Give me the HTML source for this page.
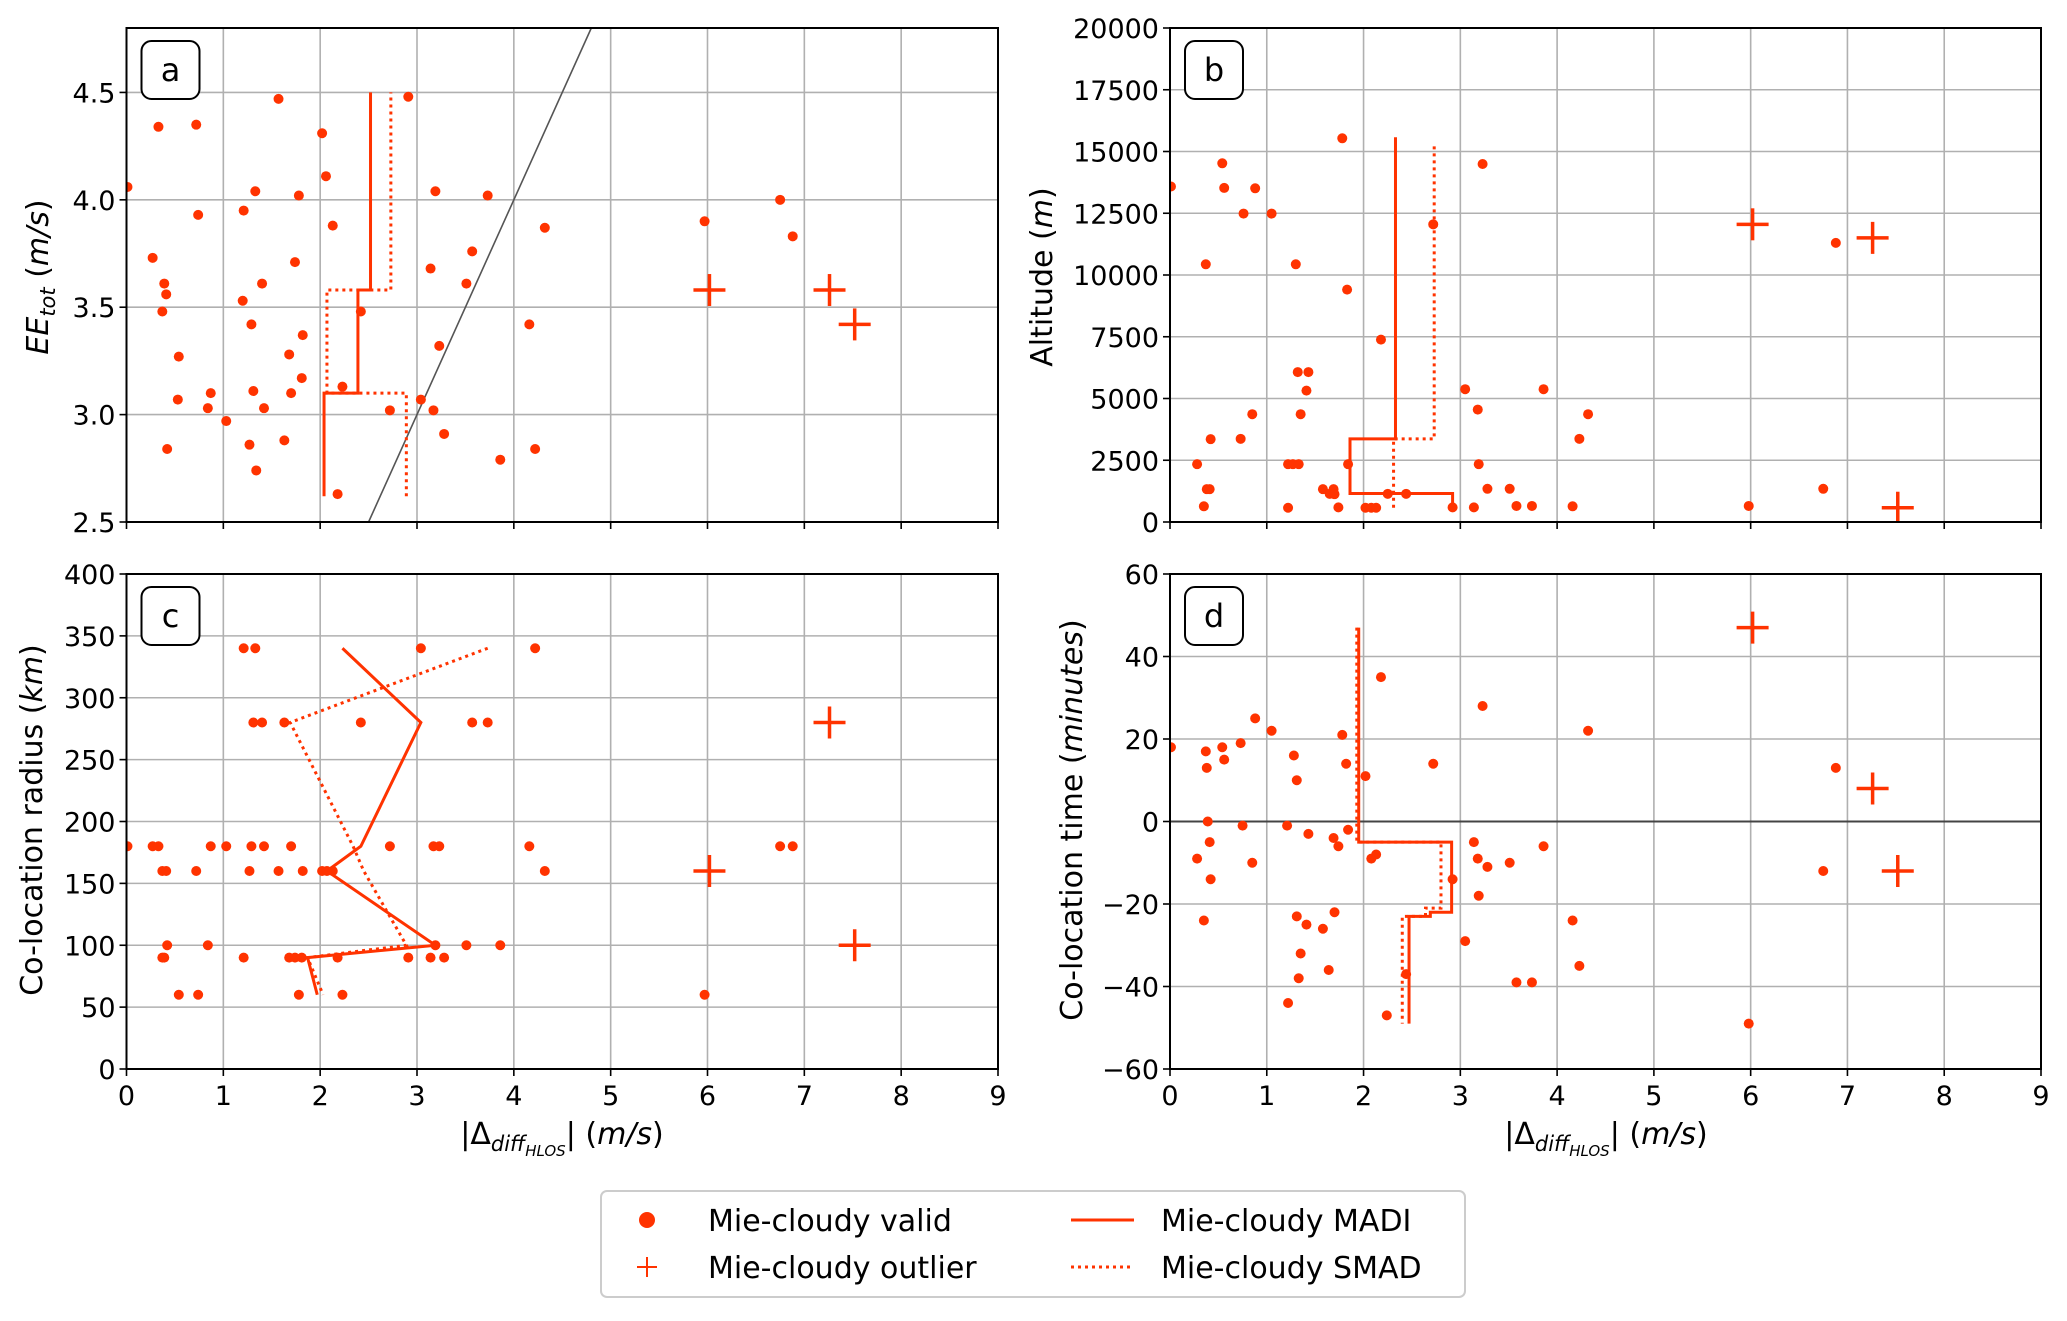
<!DOCTYPE html>
<html><head><meta charset="utf-8">
<style>
html,body{margin:0;padding:0;background:#fff;}
svg{display:block;font-family:"DejaVu Sans","Liberation Sans",sans-serif;}
</style></head>
<body>
<svg id="fig" width="2067" height="1321" viewBox="0 0 2067 1321" xmlns="http://www.w3.org/2000/svg">
<rect width="2067" height="1321" fill="#fff"/>
<g id="panels"></g>
<g>
  <rect x="601" y="1191" width="864" height="106" rx="6" fill="#fff" stroke="#ccc" stroke-width="2"/>
  <circle cx="647" cy="1220" r="8" fill="#ff3300"/>
  <text x="708" y="1231" font-size="30">Mie-cloudy valid</text>
  <g stroke="#ff3300" stroke-width="2"><line x1="637" y1="1267" x2="657" y2="1267"/><line x1="647" y1="1257" x2="647" y2="1277"/></g>
  <text x="708" y="1278" font-size="30">Mie-cloudy outlier</text>
  <line x1="1071" y1="1220" x2="1134" y2="1220" stroke="#ff3300" stroke-width="3"/>
  <text x="1161" y="1231" font-size="30">Mie-cloudy MADI</text>
  <line x1="1071" y1="1267" x2="1134" y2="1267" stroke="#ff3300" stroke-width="3" stroke-dasharray="3,4"/>
  <text x="1161" y="1278" font-size="30">Mie-cloudy SMAD</text>
</g>
</svg>
<script>
// ---- panel a data ----
const aValidX=[0.01,0.33,0.72,1.57,2.91,2.02,2.06,1.33,1.78,3.19,3.73,1.21,0.74,2.13,4.32,5.97,6.75,6.88,0.27,1.74,3.14,3.57,0.39,0.41,1.40,3.51,1.20,0.37,2.42,1.29,4.16,1.82,0.54,1.68,3.23,1.81,0.87,1.31,1.70,2.23,0.53,0.84,1.42,3.04,1.03,2.72,3.17,3.28,0.42,1.27,1.63,1.34,3.86,4.22,2.18];
const aValidY=[4.06,4.34,4.35,4.47,4.48,4.31,4.11,4.04,4.02,4.04,4.02,3.95,3.93,3.88,3.87,3.90,4.00,3.83,3.73,3.71,3.68,3.76,3.61,3.56,3.61,3.61,3.53,3.48,3.48,3.42,3.42,3.37,3.27,3.28,3.32,3.17,3.10,3.11,3.10,3.13,3.07,3.03,3.03,3.07,2.97,3.02,3.02,2.91,2.84,2.86,2.88,2.74,2.79,2.84,2.63];
const aOutX=[6.02,7.26,7.52];
const aOutY=[3.58,3.58,3.42];
const aMadiX=[2.04,2.04,2.39,2.39,2.52,2.52];
const aMadiY=[2.62,3.10,3.10,3.58,3.58,4.50];
const aSmadX=[2.89,2.89,2.07,2.07,2.73,2.73];
const aSmadY=[2.62,3.10,3.10,3.58,3.58,4.50];
const aRefX=[2.5,4.8];
const aRefY=[2.5,4.8];
// ---- panel b data ----
const bValidX=[0.01,0.54,0.56,0.88,0.76,1.05,1.78,3.23,2.72,0.37,1.30,1.83,2.18,1.32,1.43,1.41,3.05,3.86,3.18,0.85,1.35,4.32,0.42,0.73,4.23,0.28,1.22,1.27,1.33,1.84,3.19,0.38,0.41,1.58,1.65,1.69,1.70,2.25,2.44,3.28,3.51,6.75,0.35,1.22,1.74,2.02,2.08,2.13,2.92,3.14,3.58,3.74,4.16,5.98,6.88];
const bValidY=[13584,14523,13526,13511,12486,12486,15535,14494,12052,10434,10434,9408,7384,6069,6069,5318,5376,5376,4552,4364,4364,4364,3353,3367,3367,2341,2341,2341,2341,2341,2341,1329,1329,1329,1141,1329,1127,1141,1141,1344,1344,1344,636,578,592,578,578,578,592,592,650,650,636,650,11301];
const bOutX=[6.02,7.26,7.52];
const bOutY=[12052,11503,578];
const bMadiX=[2.92,2.92,1.86,1.86,2.33,2.33];
const bMadiY=[592,1156,1156,3367,3367,15578];
const bSmadX=[2.31,2.31,2.73,2.73];
const bSmadY=[578,3367,3367,15347];
// ---- panel c data ----
const cValidX=[1.21,1.33,3.04,4.22, 1.31,1.40,1.63,2.42,3.57,3.73, 0.01,0.27,0.33,0.87,1.03,1.29,1.42,1.70,2.72,3.17,3.23,4.16,6.75,6.88, 0.37,0.41,0.72,1.27,1.57,1.82,2.02,2.07,2.13,4.32, 0.42,0.84,3.19,3.51,3.86, 0.37,0.39,1.21,1.68,1.74,1.81,2.18,2.91,3.14,3.28, 0.54,0.74,1.78,2.23,5.97];
const cValidY=[340,340,340,340, 280,280,280,280,280,280, 180,180,180,180,180,180,180,180,180,180,180,180,180,180, 160,160,160,160,160,160,160,160,160,160, 100,100,100,100,100, 90,90,90,90,90,90,90,90,90,90, 60,60,60,60,60];
const cOutX=[7.26,6.02,7.52];
const cOutY=[280,160,100];
const cMadiX=[2.23,3.04,2.42,2.07,3.19,1.87,1.97];
const cMadiY=[340,280,180,160,100,90,60];
const cSmadX=[3.73,1.69,2.34,2.45,2.89,1.87,2.03];
const cSmadY=[340,280,180,160,100,90,60];
// ---- panel d data ----
const dValidX=[0.01,0.37,0.38,0.54,0.56,0.73,0.88,1.05,1.28,1.31,1.78,1.82,2.02,2.18,2.72,3.23,4.32,6.88,0.39,0.75,1.21,0.41,1.43,1.69,1.84,1.74,0.28,0.85,0.42,2.08,2.13,3.14,3.18,3.28,3.51,3.86,2.92,3.19,0.35,1.31,1.70,1.41,1.58,3.05,1.35,1.64,1.33,2.44,3.58,3.74,4.16,4.23,1.22,2.24,5.98,6.75];
const dValidY=[18,17,13,18,15,19,25,22,16,10,21,14,11,35,14,28,22,13,0,-1,-1,-5,-3,-4,-2,-6,-9,-10,-14,-9,-8,-5,-9,-11,-10,-6,-14,-18,-24,-23,-22,-25,-26,-29,-32,-36,-38,-37,-39,-39,-24,-35,-44,-47,-49,-12];
const dOutX=[6.02,7.26,7.52];
const dOutY=[47,8,-12];
const dMadiX=[1.95,1.95,2.91,2.91,2.69,2.69,2.47,2.47];
const dMadiY=[47,-5,-5,-22,-22,-23,-23,-49];
const dSmadX=[1.93,1.93,2.80,2.80,2.64,2.64,2.40,2.40];
const dSmadY=[47,-5,-5,-21,-21,-23,-23,-49];
// ---- ticks ----
const xTicks=[0,1,2,3,4,5,6,7,8,9];
const aTicks=[2.5,3.0,3.5,4.0,4.5];
const bTicks=[0,2500,5000,7500,10000,12500,15000,17500,20000];
const cTicks=[0,50,100,150,200,250,300,350,400];
const dTicks=[-60,-40,-20,0,20,40,60];

const NS="http://www.w3.org/2000/svg";
const C="#ff3300";
const root=document.getElementById('panels');
function mk(tag,attrs,parent){const e=document.createElementNS(NS,tag);for(const k in attrs)e.setAttribute(k,attrs[k]);(parent||root).appendChild(e);return e;}

const panels=[
 {id:'a',L:126.5,R:998,T:28,B:522,ymin:2.5,ymax:4.8,yt:aTicks,fmt:v=>v.toFixed(1),xl:false,
  vx:aValidX,vy:aValidY,ox:aOutX,oy:aOutY,mx:aMadiX,my:aMadiY,sx:aSmadX,sy:aSmadY},
 {id:'b',L:1170,R:2041,T:28,B:522,ymin:0,ymax:20000,yt:bTicks,fmt:v=>String(v),xl:false,
  vx:bValidX,vy:bValidY,ox:bOutX,oy:bOutY,mx:bMadiX,my:bMadiY,sx:bSmadX,sy:bSmadY},
 {id:'c',L:126.5,R:998,T:574,B:1069,ymin:0,ymax:400,yt:cTicks,fmt:v=>String(v),xl:true,
  vx:cValidX,vy:cValidY,ox:cOutX,oy:cOutY,mx:cMadiX,my:cMadiY,sx:cSmadX,sy:cSmadY},
 {id:'d',L:1170,R:2041,T:574,B:1069,ymin:-60,ymax:60,yt:dTicks,fmt:v=>String(v).replace('-','\u2212'),xl:true,
  vx:dValidX,vy:dValidY,ox:dOutX,oy:dOutY,mx:dMadiX,my:dMadiY,sx:dSmadX,sy:dSmadY}
];

panels.forEach(p=>{
 const g=mk('g',{});
 
 
 const X=v=>p.L+(v-0)/9*(p.R-p.L);
 const Y=v=>p.B-(v-p.ymin)/(p.ymax-p.ymin)*(p.B-p.T);
 const clip='clip'+p.id;
 const cp=mk('clipPath',{id:clip},g); mk('rect',{x:p.L,y:p.T,width:p.R-p.L,height:p.B-p.T},cp);
 xTicks.forEach(t=>{const l=mk('line',{x1:X(t),x2:X(t),y1:p.T,y2:p.B,stroke:'#b0b0b0','stroke-width':1.6},g);
   });
 p.yt.forEach(t=>{const l=mk('line',{x1:p.L,x2:p.R,y1:Y(t),y2:Y(t),stroke:'#b0b0b0','stroke-width':1.6},g);
   });
 if(p.id==='d'){const z=mk('line',{x1:p.L,x2:p.R,y1:Y(0),y2:Y(0),stroke:'#444','stroke-width':2},g);
   }
 const dg=mk('g',{'clip-path':'url(#'+clip+')'},g);
 if(p.id==='a'){const r=mk('line',{x1:X(aRefX[0]),y1:Y(aRefY[0]),x2:X(aRefX[1]),y2:Y(aRefY[1]),stroke:'#555','stroke-width':1.6},dg);
   }
 const pts=(xs,ys)=>xs.map((x,i)=>X(x)+','+Y(ys[i])).join(' ');
 const m=mk('polyline',{points:pts(p.mx,p.my),fill:'none',stroke:C,'stroke-width':3},dg);
 
 const s=mk('polyline',{points:pts(p.sx,p.sy),fill:'none',stroke:C,'stroke-width':3,'stroke-dasharray':'3,4'},dg);
 
 p.vx.forEach((x,i)=>{const c=mk('circle',{cx:X(x),cy:Y(p.vy[i]),r:5,fill:C},dg);
   });
 p.ox.forEach((x,i)=>{const og=mk('g',{stroke:C,'stroke-width':3.5},dg);
   
   const cx=X(x),cy=Y(p.oy[i]);
   mk('line',{x1:cx-16,x2:cx+16,y1:cy,y2:cy},og);mk('line',{x1:cx,x2:cx,y1:cy-16,y2:cy+16},og);});
 const f=mk('rect',{x:p.L,y:p.T,width:p.R-p.L,height:p.B-p.T,fill:'none',stroke:'#000','stroke-width':2},g);
 
 xTicks.forEach(t=>{mk('line',{x1:X(t),x2:X(t),y1:p.B,y2:p.B+7,stroke:'#000','stroke-width':1.6},g);
   if(p.xl){const tx=mk('text',{x:X(t),y:p.B+36,'font-size':27,'text-anchor':'middle'},g);tx.textContent=String(t);
   }});
 p.yt.forEach(t=>{mk('line',{x1:p.L-7,x2:p.L,y1:Y(t),y2:Y(t),stroke:'#000','stroke-width':1.6},g);
   const ty=mk('text',{x:p.L-11,y:Y(t)+10,'font-size':27,'text-anchor':'end'},g);ty.textContent=p.fmt(t);
   });
 const bx=mk('rect',{x:p.L+15,y:p.T+13,width:58,height:58,rx:10,fill:'#fff',stroke:'#000','stroke-width':2},g);
 
 const bt=mk('text',{x:p.L+44,y:p.T+53,'font-size':32,'text-anchor':'middle'},g);bt.textContent=p.id;
 
});

function title(html,x,y,rot,name){const t=mk('text',{x:x,y:y,'font-size':30,'text-anchor':'middle',transform:rot?('rotate(-90 '+x+' '+y+')'):''});
 t.innerHTML=html;}
title('<tspan font-style="italic">EE</tspan><tspan font-style="italic" font-size="21" dy="7">tot</tspan><tspan dy="-7"> (</tspan><tspan font-style="italic">m/s</tspan>)',48,277,true,'y-axis-title-a');
title('Altitude (<tspan font-style="italic">m</tspan>)',1052,277,true,'y-axis-title-b');
title('Co-location radius (<tspan font-style="italic">km</tspan>)',42,820,true,'y-axis-title-c');
title('Co-location time (<tspan font-style="italic">minutes</tspan>)',1082,820,true,'y-axis-title-d');
const xt='|Δ<tspan font-style="italic" font-size="21" dy="7">diff</tspan><tspan font-style="italic" font-size="15" dy="5">HLOS</tspan><tspan dy="-12">| (</tspan><tspan font-style="italic">m/s</tspan>)';
title(xt,562,1144,false,'x-axis-title-c');
title(xt,1606,1144,false,'x-axis-title-d');
</script>
</body></html>
